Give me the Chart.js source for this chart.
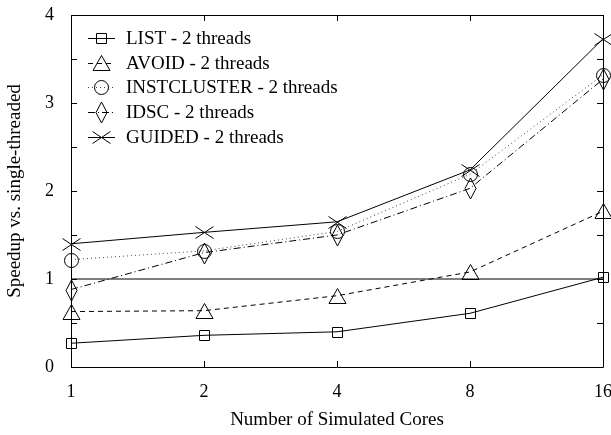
<!DOCTYPE html>
<html>
<head>
<meta charset="utf-8">
<script src="https://cdn.jsdelivr.net/npm/chart.js@4"></script>
<style>
  html, body { margin: 0; padding: 0; background: #fff; }
  #wrap { width: 611px; height: 435px; }
</style>
</head>
<body>
<div id="wrap"><canvas id="chart" width="611" height="435"></canvas></div>
<script>
// simulated core counts (log2 spaced on the x axis)
const cores = ['1', '2', '4', '8', '16'];

const listVals = [0.27, 0.36, 0.40, 0.61, 1.02];
const avoidVals = [0.63, 0.64, 0.81, 1.08, 1.77];
const instclusterVals = [1.22, 1.32, 1.54, 2.19, 3.32];
const idscVals = [0.88, 1.30, 1.50, 2.03, 3.27];
const guidedVals = [1.40, 1.53, 1.65, 2.24, 3.73];
const baseline = [1, 1, 1, 1, 1];

const yTicks = [0, 1, 2, 3, 4];

const FONT = '"Liberation Serif", "DejaVu Serif", serif';

// open marker shapes, drawn with the path centred on (x, y)
function drawMark(ctx, kind, x, y) {
    ctx.beginPath();
    if (kind === 'square') {
        ctx.rect(x - 5, y - 5, 10, 10);
    } else if (kind === 'triangle') {
        ctx.moveTo(x, y - 8); ctx.lineTo(x + 8.5, y + 7); ctx.lineTo(x - 8.5, y + 7); ctx.closePath();
    } else if (kind === 'circle') {
        ctx.arc(x, y, 7, 0, Math.PI * 2);
    } else if (kind === 'diamond') {
        ctx.moveTo(x, y - 10.5); ctx.lineTo(x + 5.5, y); ctx.lineTo(x, y + 10.5); ctx.lineTo(x - 5.5, y); ctx.closePath();
    } else if (kind === 'x') {
        ctx.moveTo(x - 9, y - 6); ctx.lineTo(x + 9, y + 6);
        ctx.moveTo(x + 9, y - 6); ctx.lineTo(x - 9, y + 6);
    }
    ctx.stroke();
}

const series = [
    { label: 'LIST - 2 threads', data: listVals, dash: [], color: '#000', mark: 'square' },
    { label: 'AVOID - 2 threads', data: avoidVals, dash: [5, 4], color: '#000', mark: 'triangle' },
    { label: 'INSTCLUSTER - 2 threads', data: instclusterVals, dash: [1, 3], color: '#444', mark: 'circle' },
    { label: 'IDSC - 2 threads', data: idscVals, dash: [7, 3, 1, 3], color: '#000', mark: 'diamond' },
    { label: 'GUIDED - 2 threads', data: guidedVals, dash: [], color: '#000', mark: 'x' }
];

const datasets = series.map(s => ({
    label: s.label,
    data: s.data,
    borderColor: s.color,
    borderWidth: 1,
    borderDash: s.dash,
    pointRadius: 0,
    fill: false,
    tension: 0
}));
datasets.push({
    label: 'baseline',
    data: baseline,
    borderColor: '#000',
    borderWidth: 1.2,
    pointRadius: 0,
    fill: false
});

// markers at the points the library placed
const markers = {
    id: 'markers',
    afterDatasetsDraw(chart) {
        const ctx = chart.ctx;
        ctx.save();
        ctx.strokeStyle = '#000';
        ctx.lineWidth = 1;
        series.forEach((s, i) => {
            chart.getDatasetMeta(i).data.forEach(pt => {
                drawMark(ctx, s.mark, Math.round(pt.x) + 0.5, Math.round(pt.y) + 0.5);
            });
        });
        ctx.restore();
    }
};

// frame and inward tick marks, gnuplot style
const frameTicks = {
    id: 'frameTicks',
    afterDraw(chart) {
        const ctx = chart.ctx, a = chart.chartArea;
        const x = chart.scales.x, y = chart.scales.y;
        ctx.save();
        ctx.strokeStyle = '#000';
        ctx.lineWidth = 1;
        ctx.beginPath();
        ctx.rect(Math.round(a.left) + 0.5, Math.round(a.top) + 0.5,
            Math.round(a.right - a.left), Math.round(a.bottom - a.top));
        for (let v = 0; v <= 4; v += 0.5) {
            const py = Math.round(y.getPixelForValue(v)) + 0.5;
            ctx.moveTo(a.left, py); ctx.lineTo(a.left + 6, py);
            ctx.moveTo(a.right, py); ctx.lineTo(a.right - 6, py);
        }
        cores.forEach((c, i) => {
            const px = Math.round(x.getPixelForValue(i)) + 0.5;
            ctx.moveTo(px, a.bottom); ctx.lineTo(px, a.bottom - 6);
            ctx.moveTo(px, a.top); ctx.lineTo(px, a.top + 6);
        });
        ctx.stroke();
        ctx.restore();
    }
};

// legend inside the plot, line sample with marker on top
const keyBox = {
    id: 'keyBox',
    afterDatasetsDraw(chart) {
        const ctx = chart.ctx;
        ctx.save();
        ctx.font = '19px ' + FONT;
        ctx.textBaseline = 'middle';
        ctx.fillStyle = '#000';
        ctx.lineWidth = 1;
        series.forEach((s, i) => {
            const yy = Math.round(38 + i * 24.7) + 0.5;
            ctx.strokeStyle = s.color;
            ctx.setLineDash(s.dash);
            ctx.beginPath();
            ctx.moveTo(88, yy);
            ctx.lineTo(115, yy);
            ctx.stroke();
            ctx.setLineDash([]);
            ctx.strokeStyle = '#000';
            drawMark(ctx, s.mark, 101.5, yy);
            ctx.fillText(s.label, 126, yy + 1);
        });
        ctx.restore();
    }
};

new Chart(document.getElementById('chart'), {
    type: 'line',
    data: { labels: cores, datasets: datasets },
    options: {
        responsive: false,
        animation: false,
        layout: { padding: { top: 15, right: 8, left: 4, bottom: 0 }, autoPadding: false },
        plugins: {
            legend: { display: false },
            tooltip: { enabled: false }
        },
        scales: {
            x: {
                offset: false,
                grid: { display: false },
                border: { display: false },
                ticks: { color: '#000', font: { family: FONT, size: 18 }, padding: 6, maxRotation: 0 },
                title: {
                    display: true,
                    text: 'Number of Simulated Cores',
                    color: '#000',
                    font: { family: FONT, size: 19 },
                    padding: { top: 4, bottom: 4 }
                },
                afterFit(s) {
                    s.height = 68;
                    s.paddingLeft = 0; s.paddingRight = 0;
                }
            },
            y: {
                min: 0,
                max: 4,
                afterBuildTicks(s) { s.ticks = yTicks.map(v => ({ value: v })); },
                grid: { display: false },
                border: { display: false },
                ticks: { color: '#000', font: { family: FONT, size: 18 }, padding: 9 },
                title: {
                    display: true,
                    text: 'Speedup vs. single-threaded',
                    color: '#000',
                    font: { family: FONT, size: 19 },
                    padding: { top: 0, bottom: 4 }
                },
                afterFit(s) {
                    s.width = 67;
                    s.paddingTop = 0; s.paddingBottom = 0;
                }
            }
        }
    },
    plugins: [markers, frameTicks, keyBox]
});
</script>
</body>
</html>
